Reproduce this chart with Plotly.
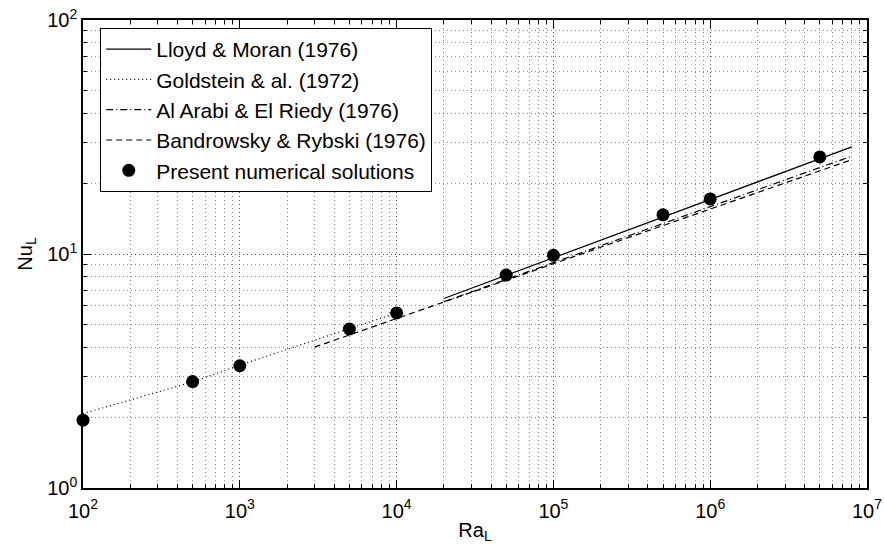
import plotly.graph_objects as go

# Lloyd & Moran (1976)
lm_ra = [2e4, 8e6]
lm_nu = [6.45, 28.7]
# Goldstein & al. (1972)
gold_ra = [1e2, 5e2, 1e3, 5e3, 1e4]
gold_nu = [2.08, 2.84, 3.35, 4.8, 5.6]
# Al Arabi & El Riedy (1976)
aa_ra = [2e4, 8e6]
aa_nu = [6.25, 26.2]
# Bandrowsky & Rybski (1976)
br_ra = [3e3, 8e6]
br_nu = [4.0, 25.3]
# Present numerical solutions
num_ra = [1e2, 5e2, 1e3, 5e3, 1e4, 5e4, 1e5, 5e5, 1e6, 5e6]
num_nu = [1.95, 2.85, 3.33, 4.78, 5.6, 8.13, 9.87, 14.7, 17.2, 26.0]

x_tickvals = [1e2, 1e3, 1e4, 1e5, 1e6, 1e7]
x_ticktext = ["10<sup>2</sup>", "10<sup>3</sup>", "10<sup>4</sup>", "10<sup>5</sup>", "10<sup>6</sup>", "10<sup>7</sup>"]
y_tickvals = [1, 10, 100]
y_ticktext = ["10<sup>0</sup>", "10<sup>1</sup>", "10<sup>2</sup>"]
minor_digits = [2, 3, 4, 5, 6, 7, 8, 9]
x_minor = [d * 10 ** k for k in range(2, 7) for d in minor_digits]
y_minor = [d * 10 ** k for k in range(0, 2) for d in minor_digits]

FONT = "Liberation Sans, Arial, Helvetica, sans-serif"

fig = go.Figure()
fig.add_trace(go.Scatter(x=lm_ra, y=lm_nu, mode="lines", name="Lloyd &amp; Moran (1976)",
                         line=dict(color="black", width=1.2)))
fig.add_trace(go.Scatter(x=gold_ra, y=gold_nu, mode="lines", name="Goldstein &amp; al. (1972)",
                         line=dict(color="black", width=1.2, dash="1px,3px")))
fig.add_trace(go.Scatter(x=aa_ra, y=aa_nu, mode="lines", name="Al Arabi &amp; El Riedy (1976)",
                         line=dict(color="black", width=1.2, dash="7px,3px,1px,3px")))
fig.add_trace(go.Scatter(x=br_ra, y=br_nu, mode="lines", name="Bandrowsky &amp; Rybski (1976)",
                         line=dict(color="black", width=1.2, dash="6px,4px")))
fig.add_trace(go.Scatter(x=num_ra, y=num_nu, mode="markers", name="Present numerical solutions",
                         marker=dict(color="black", size=13, symbol="circle"), cliponaxis=False))

def axis_common(minor_vals):
    return dict(
        type="log", automargin=False, ticklabeloverflow="allow",
        showline=True, linecolor="black", linewidth=1.5, mirror="allticks",
        ticks="inside", ticklen=8, tickwidth=1, tickcolor="black",
        showgrid=True, gridcolor="#555555", gridwidth=1, griddash="1px,3px",
        zeroline=False,
        tickfont=dict(family=FONT, size=20, color="black"),
        minor=dict(tickvals=minor_vals, ticks="inside", ticklen=4, tickcolor="black",
                   showgrid=True, gridcolor="#8a8a8a", gridwidth=1, griddash="1px,3px"),
    )

fig.update_xaxes(range=[2, 7], tickvals=x_tickvals, ticktext=x_ticktext, ticklabelstandoff=4,
                 title=dict(text="Ra<sub>L</sub>", font=dict(family=FONT, size=20, color="black"), standoff=2),
                 **axis_common(x_minor))
fig.update_yaxes(range=[0, 2], tickvals=y_tickvals, ticktext=y_ticktext,
                 title=dict(text="Nu<sub>L</sub>", font=dict(family=FONT, size=20, color="black"), standoff=9),
                 **axis_common(y_minor))

fig.update_layout(
    width=884, height=551,
    margin=dict(l=83, r=17, t=20, b=63),
    paper_bgcolor="white", plot_bgcolor="white",
    font=dict(family=FONT, size=20, color="black"),
    showlegend=True,
    legend=dict(x=0.022, y=0.983, xanchor="left", yanchor="top",
                bgcolor="white", bordercolor="black", borderwidth=1,
                font=dict(family=FONT, size=21, color="black"),
                tracegroupgap=0, itemwidth=45),
)

fig.write_html("out.html", config={"displayModeBar": False},
               post_script="document.body.style.margin='0';document.body.style.overflow='hidden';")
